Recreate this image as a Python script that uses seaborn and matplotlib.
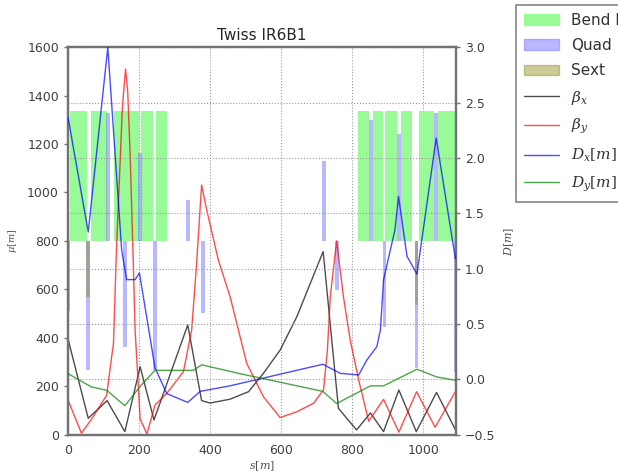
import numpy as np
import pandas as pd
import matplotlib
matplotlib.use("Agg")
import matplotlib.pyplot as plt
import seaborn as sns
from matplotlib.patches import Patch
from matplotlib.lines import Line2D

# ---------------- data ----------------
title = "Twiss IR6B1"

betx_s = [0, 57, 110, 160, 203, 242, 337, 376, 400, 456, 508, 550, 597, 644, 718, 761, 812, 851, 888, 931, 980, 1037, 1090]
betx_v = [395, 67, 140, 12, 280, 60, 453, 140, 130, 146, 177, 253, 349, 487, 756, 108, 19, 89, 12, 184, 12, 174, 20]

bety_s = [0, 38, 71, 109, 118, 128, 137, 146, 153, 162, 168, 175, 181, 189, 203, 222, 245, 278, 325, 348, 362, 376,
          390, 423, 456, 503, 550, 597, 644, 691, 719, 730, 738, 756, 775, 794, 818, 846, 888, 931, 981, 1033, 1090]
bety_v = [143, 5, 74, 163, 267, 377, 790, 1100, 1350, 1510, 1420, 1150, 850, 430, 65, 2, 122, 170, 260, 432, 708, 1031,
          930, 721, 570, 294, 156, 70, 94, 129, 184, 350, 570, 800, 570, 391, 225, 55, 145, 10, 177, 30, 177]

dx_s = [0, 57, 112, 151, 165, 189, 201, 221, 245, 278, 337, 372, 456, 717, 766, 818, 841, 869, 879, 888, 920, 930, 954, 982, 1036, 1090]
dx_v = [2.37, 1.33, 3.0, 1.17, 0.90, 0.90, 0.96, 0.57, 0.10, -0.13, -0.21, -0.11, -0.06, 0.135, 0.053, 0.038, 0.174, 0.294, 0.445, 0.9, 1.35, 1.65, 1.11, 0.95, 2.18, 1.09]

dy_s = [0, 66, 109, 160, 207, 245, 353, 376, 484, 717, 756, 851, 888, 982, 1038, 1090]
dy_v = [0.05, -0.07, -0.10, -0.24, -0.05, 0.08, 0.08, 0.13, 0.05, -0.11, -0.22, -0.06, -0.06, 0.09, 0.02, -0.01]

# magnets: start/end positions along s, heights in beta units above/below the 800 reference
bend_start = [6, 64, 130, 206, 248, 817, 858, 893, 937, 987, 1042]
bend_end = [54, 111, 200, 239, 278, 848, 886, 925, 968, 1031, 1090]
bend_height = 535

quad_s = [0, 57, 112, 160, 203, 245, 338, 380, 720, 757, 853, 890, 931, 981, 1036, 1090]
quad_k = [-290, -533, 530, -437, 362, -533, 167, -300, 328, -203, 500, -355, 440, -526, 530, -540]

sext_s = [57, 981]
sext_k = [-230, -265]

ref_level = 800
legend_labels = ["Bend H", "Quad", "Sext", r"$\beta_x$", r"$\beta_y$", r"$D_x[m]$", r"$D_y[m]$"]

# ---------------- style ----------------
sns.set_theme(style="white")
plt.rcParams["font.family"] = ["DejaVu Sans"]
plt.rcParams["mathtext.fontset"] = "dejavuserif"

fig = plt.figure(figsize=(6.18, 4.74), dpi=100)
ax = fig.add_axes([0.110, 0.0833, 0.628, 0.817])
ax2 = ax.twinx()

bend_col = "#98fb98"
quad_col = (0.45, 0.45, 1.0, 0.5)
sext_col = (0.5, 0.5, 0.0, 0.4)

# bends
b_centers = [(a + b) / 2 for a, b in zip(bend_start, bend_end)]
b_widths = [b - a for a, b in zip(bend_start, bend_end)]
ax.bar(b_centers, [bend_height] * len(b_centers), width=b_widths, bottom=ref_level,
       color=bend_col, edgecolor="none", zorder=1)
# quads
ax.bar(quad_s, quad_k, width=10, bottom=ref_level, color=quad_col, edgecolor="none", zorder=2)
# sexts
ax.bar(sext_s, sext_k, width=10, bottom=ref_level, color=sext_col, edgecolor="none", zorder=3)

df_bx = pd.DataFrame({"s": betx_s, "v": betx_v})
df_by = pd.DataFrame({"s": bety_s, "v": bety_v})
df_dx = pd.DataFrame({"s": dx_s, "v": dx_v})
df_dy = pd.DataFrame({"s": dy_s, "v": dy_v})

sns.lineplot(data=df_bx, x="s", y="v", ax=ax, color="black", alpha=0.7, lw=1.0, sort=False, zorder=4)
sns.lineplot(data=df_by, x="s", y="v", ax=ax, color="red", alpha=0.7, lw=1.0, sort=False, zorder=4)
sns.lineplot(data=df_dx, x="s", y="v", ax=ax2, color="blue", alpha=0.7, lw=1.0, sort=False, zorder=4)
sns.lineplot(data=df_dy, x="s", y="v", ax=ax2, color="green", alpha=0.7, lw=1.0, sort=False, zorder=4)

ax.set_xlim(0, 1092)
ax.set_ylim(0, 1600)
ax2.set_ylim(-0.5, 3.0)
ax.set_xticks([0, 200, 400, 600, 800, 1000])
ax.set_yticks(range(0, 1601, 200))
ax2.set_yticks([-0.5, 0.0, 0.5, 1.0, 1.5, 2.0, 2.5, 3.0])
ax2.set_yticklabels(["\u22120.5", "0.0", "0.5", "1.0", "1.5", "2.0", "2.5", "3.0"])

ax.grid(axis="x", linestyle=":", color="0.6", lw=0.8)
ax2.grid(axis="y", linestyle=":", color="0.6", lw=0.8)
ax.grid(axis="y", visible=False)

for a in (ax, ax2):
    for sp in a.spines.values():
        sp.set_color("0.45")
        sp.set_linewidth(1.6)
    a.tick_params(direction="out", length=3, width=1, colors="0.45", labelcolor="0.25", labelsize=9)

ax.set_xlabel(r"$s[m]$", fontsize=8, color="0.3", labelpad=2)
ax.set_ylabel(r"$\mu[m]$", fontsize=7, color="0.3", labelpad=6)
ax2.set_ylabel(r"$D[m]$", fontsize=8, color="0.3", labelpad=5)
ax.set_title(title, fontsize=11, color="0.15", pad=5)

handles = [Patch(color=bend_col), Patch(color=quad_col), Patch(color=sext_col),
           Line2D([], [], color="black", alpha=0.7, lw=1),
           Line2D([], [], color="red", alpha=0.7, lw=1),
           Line2D([], [], color="blue", alpha=0.7, lw=1),
           Line2D([], [], color="green", alpha=0.7, lw=1)]
leg = fig.legend(handles, legend_labels, loc="upper left", bbox_to_anchor=(516 / 618, 1 - 5 / 474),
                 fontsize=11, frameon=True, fancybox=False, handlelength=2.3, labelspacing=0.68,
                 borderpad=0.5, borderaxespad=0)
leg.get_frame().set_edgecolor("0.4")
leg.get_frame().set_linewidth(1.2)
for t in leg.get_texts():
    t.set_color("0.2")

fig.savefig("out.png", dpi=100)
